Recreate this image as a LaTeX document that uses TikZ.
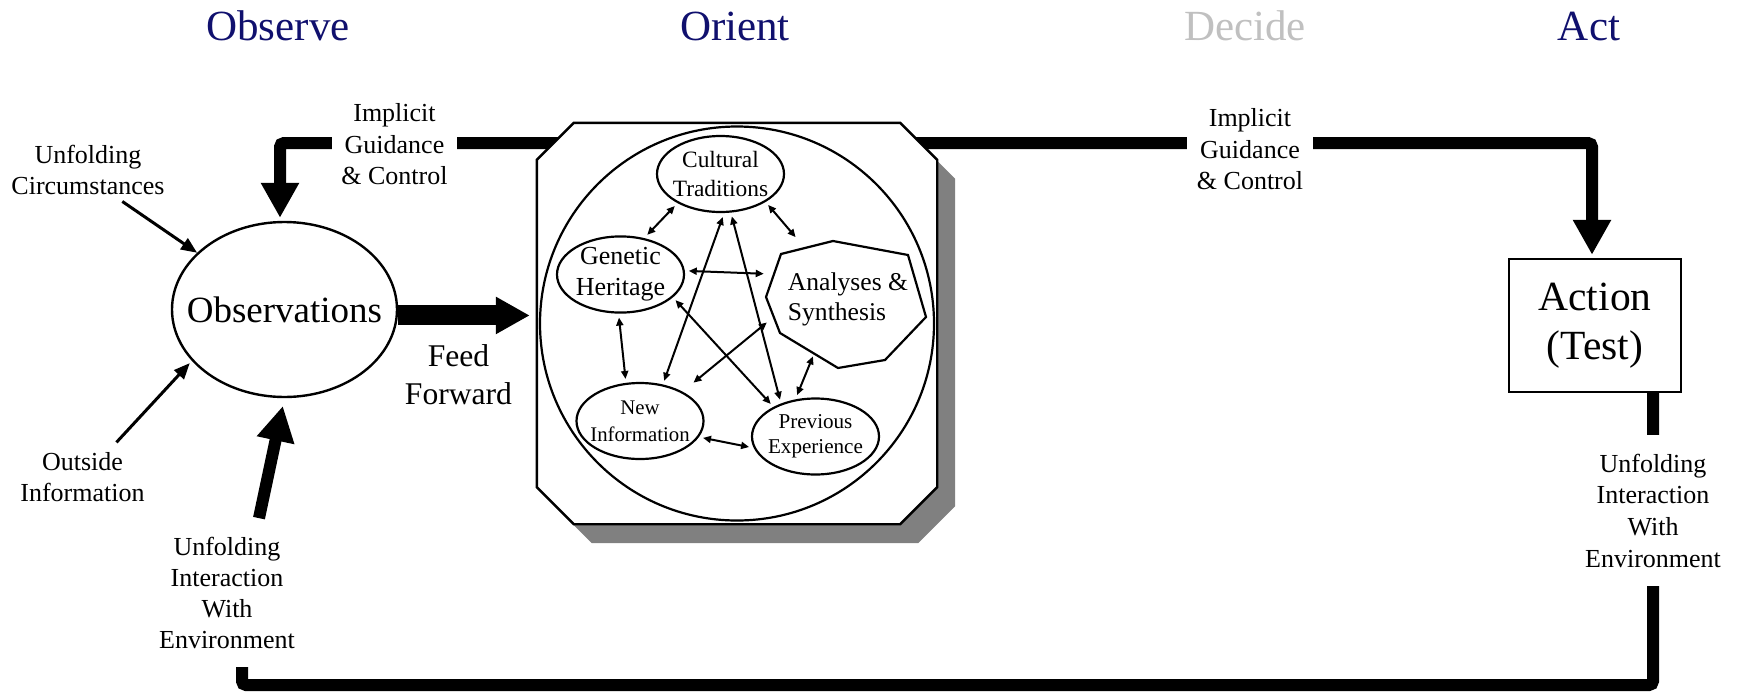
\documentclass[tikz,border=0pt]{standalone}
\usepackage{fontspec}
\setmainfont{Liberation Serif}
\usetikzlibrary{arrows.meta,shapes.geometric,shadows,backgrounds}
\definecolor{titleblue}{HTML}{10106E}
\definecolor{dimgrey}{HTML}{C0C0C0}
\newcommand\lblfont{\fontsize{26}{31.5}\selectfont}
\tikzset{
  txt/.style={align=center,inner sep=0pt},
  gap/.style={txt,fill=white,inner xsep=9.5pt,inner ysep=18.5pt},
  title/.style={anchor=base,font=\fontsize{43}{50}\selectfont},
  bubble/.style={ellipse,draw,line width=2.2pt,minimum width=127pt,minimum height=76pt,
    inner xsep=-5pt,inner ysep=0pt,outer sep=5pt,align=center},
  duo/.style={line width=2pt,{Triangle[length=8pt,width=7pt]}-{Triangle[length=8pt,width=7pt]}},
  thinarr/.style={line width=3pt,-{Triangle[length=16pt,width=13pt]}},
  guide/.style={line width=12pt,rounded corners=4pt},
  bigtip/.style={-{Triangle[length=35pt,width=36pt]}},
}
\begin{document}
\begin{tikzpicture}[x=1pt,y=-1pt]
\useasboundingbox (0,0) rectangle (1739,691);
% phase titles
\node[title,text=titleblue] (tobs) at (278,40) {Observe};
\node[title,text=titleblue] (tori) at (735,40) {Orient};
\node[title,text=dimgrey] (tdec) at (1245,40) {Decide};
\node[title,text=titleblue] (tact) at (1589,40) {Act};

% observe
\node[ellipse,draw,line width=2.4pt,minimum width=225pt,minimum height=175pt,
  inner xsep=-20pt,inner ysep=0pt,font=\fontsize{37}{44}\selectfont] (obs) at (284.5,309.5) {Observations};
\node[txt,font=\lblfont] (uc) at (88,170) {Unfolding\\Circumstances};
\node[txt,font=\lblfont] (oi) at (82.5,477) {Outside\\Information};
\node[gap,font=\lblfont] (ig1) at (394.5,144.6) {Implicit\\Guidance\\\& Control};
\node[gap,font=\fontsize{26}{31}\selectfont] (uie1) at (227,592.6) {Unfolding\\Interaction\\With\\Environment};
\node[txt,font=\fontsize{31.6}{38}\selectfont] (ff) at (458.5,375) {Feed\\Forward};

% orient
\node[minimum width=400pt,minimum height=401pt,inner sep=0pt] (orient) at (737,323.5) {};
\draw[line width=2.4pt,fill=white,drop shadow={shadow xshift=18pt,shadow yshift=-19pt,fill=black!50,opacity=1}]
  ([xshift=37pt]orient.north west) -- ([xshift=-37pt]orient.north east)
  -- ([yshift=-37pt]orient.north east) -- ([yshift=37pt]orient.south east)
  -- ([xshift=-37pt]orient.south east) -- ([xshift=37pt]orient.south west)
  -- ([yshift=37pt]orient.south west) -- ([yshift=-37pt]orient.north west) -- cycle;
\node[circle,draw,line width=2.2pt,minimum size=394pt] (orb) at (orient.center) {};
\node[bubble,font=\fontsize{23.4}{29}\selectfont] (cult) at (720.5,174) {Cultural\\Traditions};
\node[bubble,font=\fontsize{26}{31}\selectfont] (gen) at (620.5,274.5) {Genetic\\Heritage};
\node[bubble,font=\fontsize{20.8}{27}\selectfont] (newi) at (640,421) {New\\Information};
\node[bubble,font=\fontsize{21.1}{25}\selectfont] (prev) at (815.5,436.5) {Previous\\Experience};
\draw[line width=2.2pt] (833,241) -- (908,255) -- (926,317) -- (885,360) -- (838,368)
  -- (780,333) -- (766,297) -- (781,254) -- cycle;
\node[txt,align=left,font=\fontsize{25.6}{30}\selectfont] (ana) at (848,299) {Analyses \&\\Synthesis};

\draw[duo] (cult.-145) -- (gen.56);
\draw[duo,shorten >=46pt] (cult.-33) -- (ana.130);
\draw[duo,shorten >=24pt] (gen.3) -- (ana.158);
\draw[duo] (gen.-92) -- (newi.109);
\draw[duo] (cult.-87) -- (newi.59);
\draw[duo] (cult.-75) -- (prev.134);
\draw[duo] (gen.-25) -- (prev.144);
\draw[duo,shorten <=10pt,shorten >=27pt] (newi.35) -- (ana.186);
\draw[duo,shorten >=33pt] (prev.114) -- (ana.-130);
\draw[duo] (newi.-15) -- (prev.189);

% decide / act
\node[gap,font=\lblfont] (ig2) at (1250,149.6) {Implicit\\Guidance\\\& Control};
\node[draw,line width=2.4pt,minimum width=172pt,minimum height=133pt,inner sep=0pt,
  align=center,font=\fontsize{41.5}{49.5}\selectfont] (act) at (1595,325.5) {Action\\(Test)};
\node[gap,font=\fontsize{26}{31.7}\selectfont] (uie2) at (1653,510.6) {Unfolding\\Interaction\\With\\Environment};

% connectors
\coordinate (topy) at (0,143);
\coordinate (loopy) at (0,685);
\draw[thinarr,shorten <=11pt] (uc.-45) -- (obs.147);
\draw[thinarr,shorten <=13pt,shorten >=3pt] (oi.45) -- (obs.209);
\draw[line width=20pt,-{Triangle[length=34pt,width=35pt]},shorten >=7pt] (obs.-3) -- (obs.-3 -| orient.west);
\draw[line width=12pt,bigtip,shorten >=8pt] ([xshift=32pt]uie1.north) -- (obs.south);
\begin{scope}[on background layer]
\draw[guide,bigtip,shorten >=3pt] (orient.center |- topy) -| ([xshift=-4.5pt]obs.north);
\draw[guide,bigtip,shorten >=3pt] (orient.center |- topy) -| ([xshift=-3pt]act.north);
\draw[guide] (act.south -| uie2) |- ([xshift=15pt]uie1.center |- loopy) -- ([xshift=15pt]uie1.center);
\end{scope}
\end{tikzpicture}
\end{document}
